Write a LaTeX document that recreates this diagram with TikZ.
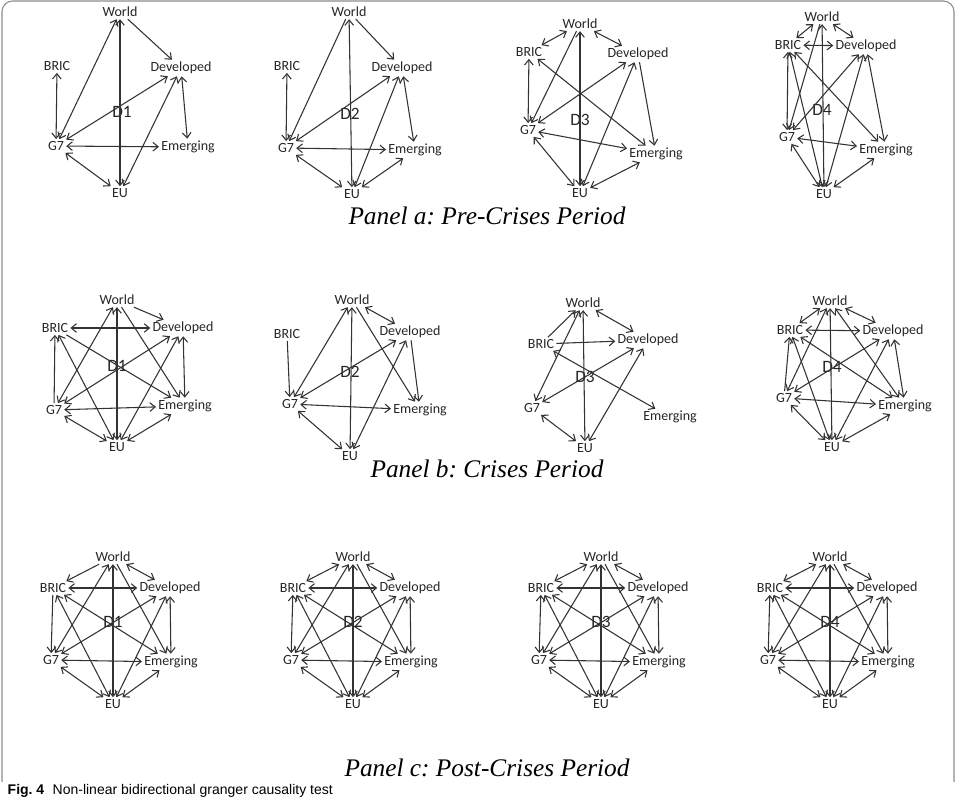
\documentclass[tikz,border=0pt]{standalone}
\usepackage{fontspec}
\setmainfont{Liberation Serif}
\newfontfamily\lblfont{Carlito}
\newfontfamily\capfont{Liberation Sans}
\usetikzlibrary{arrows.meta}
\begin{document}
\frenchspacing
\begin{tikzpicture}[x=0.75pt,y=-0.75pt,
  lbl/.style={font=\lblfont\fontsize{10.5}{12}\selectfont, inner sep=1.5pt, text=black!85},
  dlbl/.style={font=\lblfont\fontsize{13}{14}\selectfont, inner sep=0pt, text=black!85},
  >={Straight Barb[length=4pt,width=6.5pt]},
  bi/.style={<->, line width=0.8pt, black!80},
  one/.style={->, line width=0.8pt, black!80},
  plabel/.style={font=\itshape\fontsize{19}{21}\selectfont}]
\useasboundingbox (0,0) rectangle (956,805);
\draw[black!45, line width=0.8pt, rounded corners=8pt] (2,782) -- (2,1) -- (954,1) -- (954,782);

% ---------- Panel a ----------
% D1
\node[lbl] (a1W) at (120,12) {World};
\node[lbl] (a1B) at (57,66) {BRIC};
\node[lbl] (a1Dv) at (181,68) {Developed};
\node[dlbl] (a1D) at (122,112) {D1};
\node[lbl] (a1G) at (56,146) {G7};
\node[lbl] (a1Em) at (188,147) {Emerging};
\node[lbl] (a1EU) at (120,193) {EU};
\draw[one] (a1W) -- (a1Dv);
\draw[bi] (a1B) -- (a1G);
\draw[bi] (a1W) -- (a1G);
\draw[bi] (a1EU) -- (a1W);
\draw[bi] (a1G) -- (a1Dv);
\draw[bi] (a1EU) -- (a1Dv);
\draw[bi] (a1Dv) -- (a1Em);
\draw[bi] (a1G) -- (a1Em);
\draw[bi] (a1EU) -- (a1G);
% D2
\node[lbl] (a2W) at (349,12) {World};
\node[lbl] (a2B) at (287,66) {BRIC};
\node[lbl] (a2Dv) at (402,68) {Developed};
\node[dlbl] (a2D) at (350,114) {D2};
\node[lbl] (a2G) at (286,148) {G7};
\node[lbl] (a2Em) at (415,150) {Emerging};
\node[lbl] (a2EU) at (352,194) {EU};
\draw[one] (a2W) -- (a2Dv);
\draw[bi] (a2B) -- (a2G);
\draw[one] (a2W) -- (a2G);
\draw[bi] (a2EU) -- (a2W);
\draw[bi] (a2G) -- (a2Dv);
\draw[bi] (a2EU) -- (a2Dv);
\draw[bi] (a2Dv) -- (a2Em);
\draw[bi] (a2G) -- (a2Em);
\draw[bi] (a2EU) -- (a2G);
\draw[bi] (a2EU) -- (a2Em);
% D3
\node[lbl] (a3W) at (580,24) {World};
\node[lbl] (a3B) at (529,52) {BRIC};
\node[lbl] (a3Dv) at (638,54) {Developed};
\node[dlbl] (a3D) at (580,120) {D3};
\node[lbl] (a3G) at (528,130) {G7};
\node[lbl] (a3Em) at (656,154) {Emerging};
\node[lbl] (a3EU) at (580,193) {EU};
\draw[bi] (a3W) -- (a3B);
\draw[bi] (a3W) -- (a3Dv);
\draw[bi] (a3B) -- (a3G);
\draw[one] (a3W) -- (a3G);
\draw[bi] (a3EU) -- (a3W);
\draw[bi] (a3B) -- (a3Em);
\draw[bi] (a3G) -- (a3Dv);
\draw[bi] (a3EU) -- (a3Dv);
\draw[one] (a3Dv) -- (a3Em);
\draw[bi] (a3G) -- (a3Em);
\draw[bi] (a3EU) -- (a3G);
\draw[bi] (a3EU) -- (a3Em);
% D4
\node[lbl] (a4W) at (822,17) {World};
\node[lbl] (a4B) at (788,45) {BRIC};
\node[lbl] (a4Dv) at (866,46) {Developed};
\node[dlbl] (a4D) at (822,110) {D4};
\node[lbl] (a4G) at (787,137) {G7};
\node[lbl] (a4Em) at (886,150) {Emerging};
\node[lbl] (a4EU) at (824,194) {EU};
\draw[bi] (a4W) -- (a4B);
\draw[bi] (a4W) -- (a4Dv);
\draw[bi] (a4B) -- (a4Dv);
\draw[bi] (a4B) -- (a4G);
\draw[one] (a4W) -- (a4G);
\draw[bi] (a4EU) -- (a4W);
\draw[bi] (a4B) -- (a4Em);
\draw[bi] (a4EU) -- (a4B);
\draw[bi] (a4G) -- (a4Dv);
\draw[bi] (a4EU) -- (a4Dv);
\draw[bi] (a4Dv) -- (a4Em);
\draw[bi] (a4G) -- (a4Em);
\draw[bi] (a4EU) -- (a4G);
\draw[bi] (a4EU) -- (a4Em);
\node[plabel] (pa) at (487,216) {Panel a: Pre-Crises Period};

% ---------- Panel b ----------
% D1
\node[lbl] (b1W) at (117,300) {World};
\node[lbl] (b1B) at (55,328) {BRIC};
\node[lbl] (b1Dv) at (183,328) {Developed};
\node[dlbl] (b1D) at (117,366) {D1};
\node[lbl] (b1G) at (54,410) {G7};
\node[lbl] (b1Em) at (185,406) {Emerging};
\node[lbl] (b1EU) at (117,447) {EU};
\draw[one] (b1W) -- (b1Dv);
\draw[bi] (b1B) -- (b1Dv);
\draw[one] (b1G) -- (b1B);
\draw[bi] (b1W) -- (b1G);
\draw[one] (b1W) -- (b1Em);
\draw[bi] (b1EU) -- (b1W);
\draw[one] (b1B) -- (b1Em);
\draw[bi] (b1EU) -- (b1B);
\draw[bi] (b1G) -- (b1Dv);
\draw[bi] (b1EU) -- (b1Dv);
\draw[bi] (b1Dv) -- (b1Em);
\draw[bi] (b1G) -- (b1Em);
\draw[bi] (b1EU) -- (b1G);
\draw[bi] (b1EU) -- (b1Em);
% D2
\node[lbl] (b2W) at (352,300) {World};
\node[lbl] (b2B) at (287,334) {BRIC};
\node[lbl] (b2Dv) at (410,332) {Developed};
\node[dlbl] (b2D) at (350,372) {D2};
\node[lbl] (b2G) at (290,404) {G7};
\node[lbl] (b2Em) at (420,410) {Emerging};
\node[lbl] (b2EU) at (350,456) {EU};
\draw[bi] (b2W) -- (b2Dv);
\draw[one] (b2B) -- (b2G);
\draw[bi] (b2W) -- (b2G);
\draw[bi] (b2EU) -- (b2W);
\draw[one] (b2W) -- (b2Em);
\draw[bi] (b2G) -- (b2Dv);
\draw[bi] (b2EU) -- (b2Dv);
\draw[one] (b2Dv) -- (b2Em);
\draw[bi] (b2G) -- (b2Em);
\draw[bi] (b2EU) -- (b2G);
% D3
\node[lbl] (b3W) at (583,303) {World};
\node[lbl] (b3B) at (541,344) {BRIC};
\node[lbl] (b3Dv) at (648,340) {Developed};
\node[dlbl] (b3D) at (585,377) {D3};
\node[lbl] (b3G) at (532,408) {G7};
\node[lbl] (b3Em) at (670,417) {Emerging};
\node[lbl] (b3EU) at (585,448) {EU};
\draw[one] (b3B) -- (b3W);
\draw[bi] (b3W) -- (b3Dv);
\draw[one] (b3B) -- (b3Dv);
\draw[bi] (b3W) -- (b3G);
\draw[bi] (b3EU) -- (b3W);
\draw[bi] (b3B) -- (b3Em);
\draw[bi] (b3G) -- (b3Dv);
\draw[bi] (b3EU) -- (b3Dv);
\draw[bi] (b3EU) -- (b3G);
% D4
\node[lbl] (b4W) at (830,301) {World};
\node[lbl] (b4B) at (790,330) {BRIC};
\node[lbl] (b4Dv) at (893,331) {Developed};
\node[dlbl] (b4D) at (832,367) {D4};
\node[lbl] (b4G) at (784,398) {G7};
\node[lbl] (b4Em) at (905,406) {Emerging};
\node[lbl] (b4EU) at (832,447) {EU};
\draw[bi] (b4W) -- (b4B);
\draw[bi] (b4W) -- (b4Dv);
\draw[bi] (b4B) -- (b4Dv);
\draw[one] (b4G) -- (b4B);
\draw[bi] (b4W) -- (b4G);
\draw[bi] (b4EU) -- (b4W);
\draw[bi] (b4W) -- (b4Em);
\draw[bi] (b4B) -- (b4Em);
\draw[bi] (b4EU) -- (b4B);
\draw[bi] (b4G) -- (b4Dv);
\draw[bi] (b4EU) -- (b4Dv);
\draw[bi] (b4Dv) -- (b4Em);
\draw[bi] (b4G) -- (b4Em);
\draw[bi] (b4EU) -- (b4G);
\draw[bi] (b4EU) -- (b4Em);
\node[plabel] (pb) at (487,469) {Panel b: Crises Period};

% ---------- Panel c ----------
\foreach \p/\cx/\dl in {c1/113/D1, c2/353/D2, c3/601/D3, c4/830/D4}{
  \node[lbl] (\p W) at (\cx,557) {World};
  \node[lbl] (\p B) at (\cx-60,588) {BRIC};
  \node[lbl] (\p Dv) at (\cx+57,588) {Developed};
  \node[dlbl] (\p D) at (\cx,622) {\dl};
  \node[lbl] (\p G) at (\cx-62,660) {G7};
  \node[lbl] (\p Em) at (\cx+58,662) {Emerging};
  \node[lbl] (\p EU) at (\cx,704) {EU};
  \draw[bi] (\p W) -- (\p Dv);
  \draw[bi] (\p B) -- (\p Dv);
  \draw[bi] (\p W) -- (\p G);
  \draw[one] (\p W) -- (\p Em);
  \draw[bi] (\p EU) -- (\p W);
  \draw[bi] (\p B) -- (\p Em);
  \draw[bi] (\p EU) -- (\p B);
  \draw[bi] (\p G) -- (\p Dv);
  \draw[bi] (\p EU) -- (\p Dv);
  \draw[bi] (\p Dv) -- (\p Em);
  \draw[bi] (\p G) -- (\p Em);
  \draw[bi] (\p EU) -- (\p G);
  \draw[bi] (\p EU) -- (\p Em);
}
\draw[one] (c1W) -- (c1B);
\draw[one] (c1B) -- (c1G);
\foreach \p in {c2,c3,c4}{
  \draw[bi] (\p W) -- (\p B);
  \draw[bi] (\p B) -- (\p G);
}
\node[plabel] (pc) at (487,768) {Panel c: Post-Crises Period};

\node[anchor=west, font=\capfont\fontsize{10.5}{12}\selectfont] (cap) at (3,791) {\textbf{Fig. 4}\hspace{0.6em}Non-linear bidirectional granger causality test};
\end{tikzpicture}
\end{document}
